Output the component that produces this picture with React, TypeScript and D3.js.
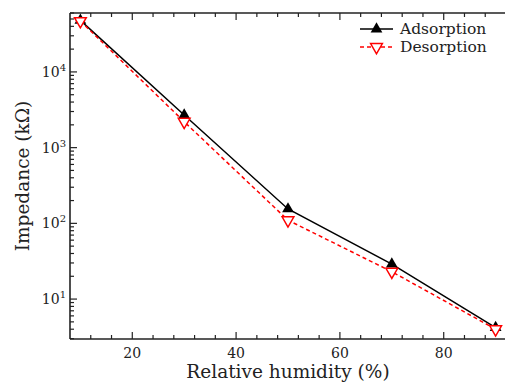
import React, { useRef, useEffect } from 'react';
import * as d3 from 'd3';

const humidity = [10, 30, 50, 70, 90];
const adsorption = [48000, 2700, 155, 29, 4.2];
const desorption = [47000, 2200, 110, 23, 4.0];
const seriesNames = ['Adsorption', 'Desorption'];
const yDecades = [10, 100, 1000, 10000];
const xMajor = [20, 40, 60, 80];

const W = 505;
const H = 383;

const App: React.FC = () => {
  const svgRef = useRef<SVGSVGElement | null>(null);

  useEffect(() => {
    if (!svgRef.current) return;
    const svg = d3.select(svgRef.current);
    svg.selectAll('*').remove();

    const left = 70, top = 13, right = 506, bottom = 339;
    const font = 'DejaVu Serif, Liberation Serif, serif';

    const x = d3.scaleLinear().domain([8, 92]).range([left, right]);
    const y = d3.scaleLog().domain([2.97, 60000]).range([bottom, top]);

    const g = svg.append('g').attr('font-family', font).attr('fill', '#222');

    // frame lines (left, bottom, top)
    g.append('line').attr('x1', left).attr('x2', left).attr('y1', top).attr('y2', bottom)
      .attr('stroke', '#222').attr('stroke-width', 1.6);
    g.append('line').attr('x1', left).attr('x2', right).attr('y1', bottom).attr('y2', bottom)
      .attr('stroke', '#222').attr('stroke-width', 1.6);
    g.append('line').attr('x1', left).attr('x2', right).attr('y1', top).attr('y2', top)
      .attr('stroke', '#222').attr('stroke-width', 1.6);

    // x ticks, pointing inwards, also on top
    const xMinor = d3.range(12, 92, 4);
    xMinor.forEach(v => {
      const major = xMajor.includes(v);
      const len = major ? 7 : 4;
      g.append('line').attr('x1', x(v)).attr('x2', x(v)).attr('y1', bottom).attr('y2', bottom - len)
        .attr('stroke', '#222').attr('stroke-width', 1.2);
      g.append('line').attr('x1', x(v)).attr('x2', x(v)).attr('y1', top).attr('y2', top + len)
        .attr('stroke', '#222').attr('stroke-width', 1.2);
    });
    g.selectAll('text.xt').data(xMajor).enter().append('text')
      .attr('class', 'xt')
      .attr('x', d => x(d)).attr('y', bottom + 19)
      .attr('text-anchor', 'middle')
      .attr('font-size', 14)
      .text(d => d);

    // y ticks (log), pointing inwards
    const yTicks = y.ticks().filter(v => v >= 2.97 && v <= 60000);
    yTicks.forEach(v => {
      const major = yDecades.includes(v);
      g.append('line').attr('x1', left).attr('x2', left + (major ? 7 : 4))
        .attr('y1', y(v)).attr('y2', y(v))
        .attr('stroke', '#222').attr('stroke-width', 1.2);
    });
    yDecades.forEach(v => {
      const t = g.append('text')
        .attr('x', left - 4).attr('y', y(v) + 5)
        .attr('text-anchor', 'end')
        .attr('font-size', 14);
      t.append('tspan').text('10');
      t.append('tspan').attr('dy', -6).attr('font-size', 10).text(String(Math.round(Math.log10(v))));
    });

    // axis labels
    g.append('text')
      .attr('x', 288).attr('y', 378)
      .attr('text-anchor', 'middle')
      .attr('font-size', 18.5)
      .text('Relative humidity (%)');
    g.append('text')
      .attr('transform', `translate(29, 176) rotate(-90)`)
      .attr('text-anchor', 'middle')
      .attr('font-size', 18.5)
      .text('Impedance (kΩ)');

    const line = d3.line<number>().x((d, i) => x(humidity[i])).y(d => y(d));
    const triUp = d3.symbol().type(d3.symbolTriangle).size(60)();
    const triDown = d3.symbol().type(d3.symbolTriangle).size(60)();

    // adsorption
    g.append('path').attr('d', line(adsorption)).attr('fill', 'none')
      .attr('stroke', 'black').attr('stroke-width', 1.5);
    g.selectAll('path.ads').data(adsorption).enter().append('path')
      .attr('class', 'ads')
      .attr('d', triUp)
      .attr('transform', (d, i) => `translate(${x(humidity[i])},${y(d)})`)
      .attr('fill', 'black');

    // desorption
    g.append('path').attr('d', line(desorption)).attr('fill', 'none')
      .attr('stroke', 'red').attr('stroke-width', 1.5).attr('stroke-dasharray', '4,3');
    g.selectAll('path.des').data(desorption).enter().append('path')
      .attr('class', 'des')
      .attr('d', triDown)
      .attr('transform', (d, i) => `translate(${x(humidity[i])},${y(d)}) rotate(180)`)
      .attr('fill', 'white').attr('stroke', 'red').attr('stroke-width', 1.5);

    // legend
    const legend = g.append('g').attr('transform', 'translate(360, 29)');
    seriesNames.forEach((name, i) => {
      const ly = i * 18;
      legend.append('line').attr('x1', 0).attr('x2', 33).attr('y1', ly).attr('y2', ly)
        .attr('stroke', i === 0 ? 'black' : 'red').attr('stroke-width', 1.5)
        .attr('stroke-dasharray', i === 0 ? null : '4,3');
      legend.append('path')
        .attr('d', i === 0 ? triUp : triDown)
        .attr('transform', `translate(16.5,${ly})${i === 0 ? '' : ' rotate(180)'}`)
        .attr('fill', i === 0 ? 'black' : 'white')
        .attr('stroke', i === 0 ? 'none' : 'red').attr('stroke-width', 1.5);
      legend.append('text').attr('x', 40).attr('y', ly + 5)
        .attr('font-size', 15.5)
        .text(name);
    });
  }, []);

  return (
    <div style={{ position: 'absolute', left: 0, top: 0, width: W, height: H, background: 'white' }}>
      <svg ref={svgRef} width={W} height={H} />
    </div>
  );
};

export default App;
